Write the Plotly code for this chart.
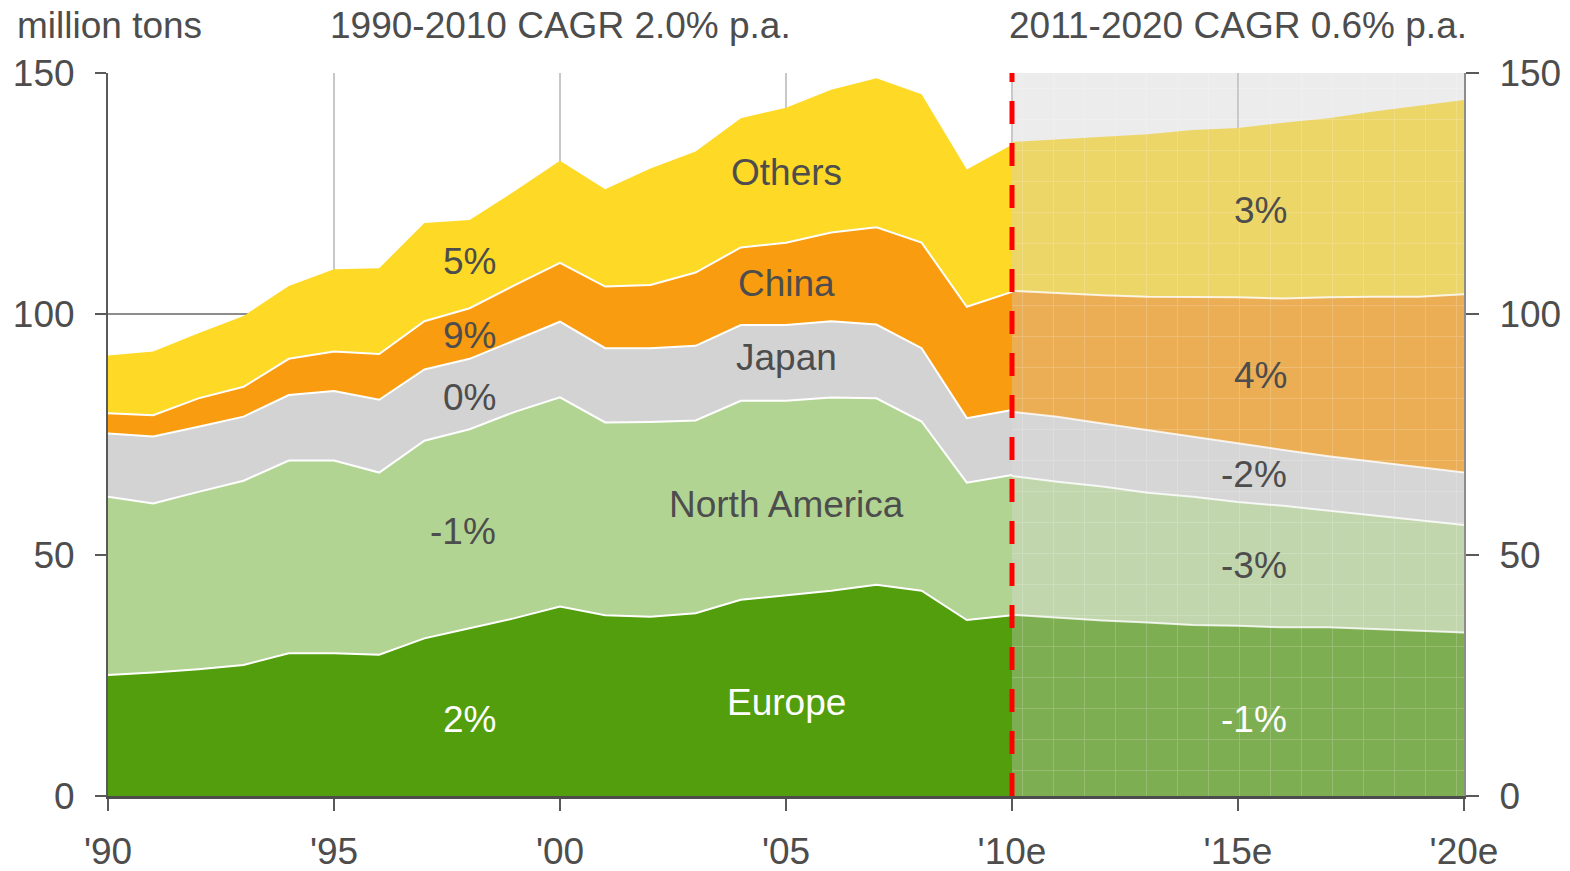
import plotly.graph_objects as go

# ---------------- data ----------------
years_hist = list(range(1990, 2011))
years_fc = list(range(2010, 2021))

europe_hist = [25.1, 25.6, 26.3, 27.2, 29.6, 29.6, 29.3, 32.7, 34.8, 36.9, 39.3,
               37.5, 37.2, 37.9, 40.7, 41.7, 42.6, 43.8, 42.6, 36.5, 37.5]
namerica_hist = [37.0, 35.1, 36.8, 38.2, 40.0, 40.0, 37.8, 41.0, 41.3, 42.8, 43.4,
                 40.0, 40.4, 40.0, 41.3, 40.3, 40.1, 38.7, 35.1, 28.5, 29.1]
japan_hist = [13.1, 13.9, 13.5, 13.3, 13.6, 14.4, 15.1, 14.8, 14.6, 14.8, 15.7,
              15.4, 15.3, 15.5, 15.7, 15.7, 15.8, 15.3, 15.2, 13.4, 13.5]
china_hist = [4.2, 4.4, 5.9, 6.2, 7.5, 8.2, 9.5, 10.0, 10.5, 11.5, 12.2,
              12.8, 13.1, 15.2, 16.1, 17.1, 18.4, 20.2, 21.9, 23.1, 24.5]
others_hist = [12.0, 13.2, 13.5, 14.7, 15.1, 17.1, 17.8, 20.4, 18.3, 19.5, 21.2,
               20.2, 24.2, 25.1, 26.8, 28.0, 29.6, 30.9, 30.8, 28.5, 30.5]

europe_fc = [37.6, 37.0, 36.4, 36.0, 35.5, 35.3, 35.0, 35.0, 34.6, 34.3, 33.9]
namerica_fc = [28.8, 28.2, 27.8, 26.9, 26.6, 25.7, 25.2, 24.2, 23.7, 23.0, 22.3]
japan_fc = [13.3, 13.5, 13.1, 13.0, 12.4, 12.2, 11.6, 11.3, 11.1, 11.0, 10.9]
china_fc = [25.1, 25.6, 26.6, 27.7, 29.0, 30.3, 31.4, 33.0, 34.2, 35.3, 37.0]
others_fc = [30.9, 31.9, 32.9, 33.7, 34.7, 35.1, 36.5, 37.1, 38.4, 39.6, 40.3]

tick_years = [1990, 1995, 2000, 2005, 2010, 2015, 2020]
tick_labels = ["'90", "'95", "'00", "'05", "'10e", "'15e", "'20e"]
y_ticks = [0, 50, 100, 150]
y_max = 150

series_names = ["Europe", "North America", "Japan", "China", "Others"]
hist_values = [europe_hist, namerica_hist, japan_hist, china_hist, others_hist]
fc_values = [europe_fc, namerica_fc, japan_fc, china_fc, others_fc]

hist_colors = ["#529e0c", "#b2d492", "#d3d3d3", "#f99c10", "#fed926"]
fc_colors = ["#7eae52", "#c1d6ad", "#d6d6d6", "#ebae55", "#edd668"]

# labels: (text, x, y, white?)
area_labels = [
    ("Others", 2005, 129.3, False),
    ("China", 2005, 106.4, False),
    ("Japan", 2005, 90.9, False),
    ("North America", 2005, 60.4, False),
    ("Europe", 2005, 19.3, True),
    ("5%", 1998, 110.8, False),
    ("9%", 1998, 95.6, False),
    ("0%", 1998, 82.6, False),
    ("-1%", 1997.85, 54.8, False),
    ("2%", 1998, 15.8, True),
    ("3%", 2015.5, 121.4, False),
    ("4%", 2015.5, 87.3, False),
    ("-2%", 2015.35, 66.6, False),
    ("-3%", 2015.35, 47.9, False),
    ("-1%", 2015.35, 15.8, True),
]

TXT = "#4d4d4d"
FONT = "Liberation Sans, Arial, sans-serif"
FS = 37

fig = go.Figure()

for name, vals, col in zip(series_names, hist_values, hist_colors):
    fig.add_trace(go.Scatter(
        x=years_hist, y=vals, name=name, stackgroup="hist", mode="lines",
        line=dict(color="white", width=0 if name == "Others" else 2),
        fillcolor=col, hoverinfo="x+y+name", showlegend=False))

for name, vals, col in zip(series_names, fc_values, fc_colors):
    fig.add_trace(go.Scatter(
        x=years_fc, y=vals, name=name + " (e)", stackgroup="fc", mode="lines",
        line=dict(color="rgba(255,255,255,0.8)", width=0 if name == "Others" else 2),
        fillcolor=col, hoverinfo="x+y+name", showlegend=False))

# grid pattern overlay on forecast period
fs, fe = years_fc[0], years_fc[-1]
fig.add_trace(go.Scatter(
    x=[fs, fe, fe, fs, fs], y=[0, 0, y_max, y_max, 0], mode="lines",
    fill="toself", fillcolor="rgba(0,0,0,0)", line=dict(width=0),
    fillpattern=dict(shape="+", size=31, solidity=0.05,
                     fgcolor="rgba(255,255,255,0.45)", bgcolor="rgba(0,0,0,0)"),
    hoverinfo="skip", showlegend=False))

# dummy trace on right axis
fig.add_trace(go.Scatter(x=[years_hist[0]], y=[0], yaxis="y2", mode="markers",
                         marker=dict(opacity=0), hoverinfo="skip", showlegend=False))

# grey background for forecast period
fig.add_shape(type="rect", xref="x", yref="y", x0=fs, x1=fe, y0=0, y1=y_max,
              fillcolor="#ececec", line=dict(width=0), layer="below")
# red dashed divider
fig.add_shape(type="line", xref="x", yref="y", x0=fs, x1=fs, y0=0, y1=y_max,
              line=dict(color="#ff0000", width=5, dash="23px,19px"), layer="above")

for text, x, y, white in area_labels:
    fig.add_annotation(x=x, y=y, xref="x", yref="y", text=text, showarrow=False,
                       font=dict(family=FONT, size=FS, color="white" if white else TXT))

fig.add_annotation(x=-0.0686, y=1.066, xref="paper", yref="paper", text="million tons",
                   showarrow=False, xanchor="left", yanchor="middle",
                   font=dict(family=FONT, size=FS, color=TXT))
fig.add_annotation(x=2000, y=1.066, xref="x", yref="paper", text="1990-2010 CAGR 2.0% p.a.",
                   showarrow=False, xanchor="center", yanchor="middle",
                   font=dict(family=FONT, size=FS, color=TXT))
fig.add_annotation(x=2015, y=1.066, xref="x", yref="paper", text="2011-2020 CAGR 0.6% p.a.",
                   showarrow=False, xanchor="center", yanchor="middle",
                   font=dict(family=FONT, size=FS, color=TXT))

fig.update_layout(
    width=1570, height=871,
    margin=dict(l=108, r=106, t=73, b=75, autoexpand=False),
    paper_bgcolor="white", plot_bgcolor="white",
    showlegend=False,
    font=dict(family=FONT, size=FS, color=TXT),
    xaxis=dict(range=[years_hist[0], years_fc[-1]], tickvals=tick_years, ticktext=tick_labels,
               showgrid=True, gridcolor="#c8c8c8", gridwidth=2,
               showline=True, linecolor="#4d4d4d", linewidth=3,
               ticks="outside", ticklen=12, tickwidth=2, tickcolor="#595959",
               zeroline=False, ticklabelstandoff=9, automargin=False,
               tickfont=dict(family=FONT, size=FS, color=TXT)),
    yaxis=dict(range=[0, y_max], tickvals=y_ticks, showgrid=True, gridcolor="#8c8c8c",
               gridwidth=2, showline=True, linecolor="#595959", linewidth=2,
               ticks="outside", ticklen=11, tickwidth=2, tickcolor="#595959",
               zeroline=False, ticklabelstandoff=13, automargin=False,
               tickfont=dict(family=FONT, size=FS, color=TXT)),
    yaxis2=dict(range=[0, y_max], tickvals=y_ticks, overlaying="y", side="right",
                showgrid=False, showline=True, linecolor="#8c8c8c", linewidth=2,
                ticks="outside", ticklen=13, tickwidth=2, tickcolor="#595959",
                zeroline=False, ticklabelstandoff=13, automargin=False,
                tickfont=dict(family=FONT, size=FS, color=TXT)),
)

fig.write_html("out.html",
               config={"displayModeBar": False},
               post_script="document.body.style.margin='0px';"
                           "document.body.style.overflow='hidden';")
